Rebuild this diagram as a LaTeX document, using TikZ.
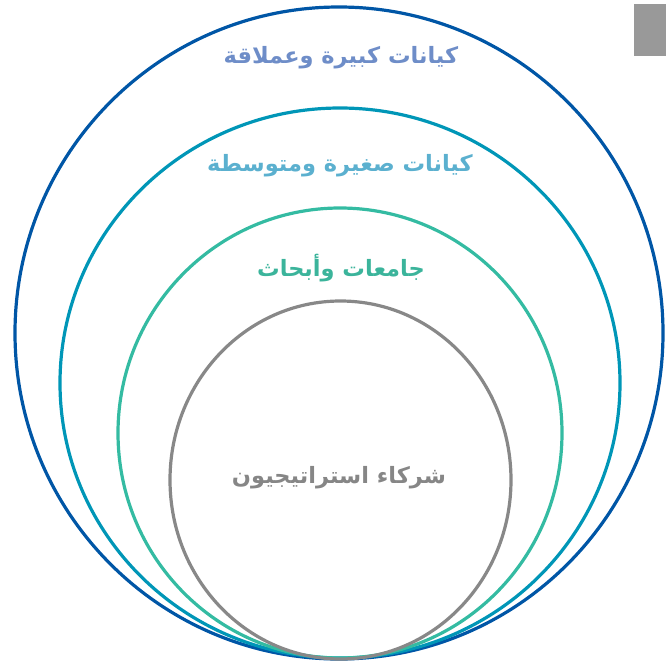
\documentclass[tikz,border=0pt]{standalone}
\usepackage{fontspec}
\TeXXeTstate=1
\newfontfamily\arabicfont[Script=Arabic]{DejaVu Sans}
\definecolor{cOuter}{HTML}{0056A6}
\definecolor{cSecond}{HTML}{0096B7}
\definecolor{cThird}{HTML}{34BBA2}
\definecolor{cGray}{HTML}{888888}
\definecolor{tOuter}{HTML}{6E8DC8}
\definecolor{tSecond}{HTML}{5BB0CF}
\definecolor{tThird}{HTML}{3BB49B}
\definecolor{tGray}{HTML}{868686}
\definecolor{cRect}{HTML}{999999}
\tikzset{
  ring/.style={line width=3.2pt},
  lbl/.style={font=\arabicfont\bfseries\fontsize{22.5}{26}\selectfont, inner sep=0pt}
}
\begin{document}
\begin{tikzpicture}[x=1pt,y=-1pt]
\useasboundingbox (0,0) rectangle (666,664);
\fill[cRect] (634,4) rectangle (666,56);
\draw[ring, cOuter] (339,333) ellipse [x radius=324, y radius=326];
\draw[ring, cSecond] (340,383) ellipse [x radius=280, y radius=275];
\draw[ring, cThird] (340,433) ellipse [x radius=222, y radius=225];
\draw[ring, cGray] (340.5,480) ellipse [x radius=170.5, y radius=179];
\node[lbl, text=tOuter] (t1) at (341,58) {\beginR كيانات كبيرة وعملاقة\endR};
\node[lbl, text=tSecond] (t2) at (340,166) {\beginR كيانات صغيرة ومتوسطة\endR};
\node[lbl, text=tThird] (t3) at (341,268) {\beginR جامعات وأبحاث\endR};
\node[lbl, text=tGray] (t4) at (339,478) {\beginR شركاء استراتيجيون\endR};
\end{tikzpicture}
\end{document}
